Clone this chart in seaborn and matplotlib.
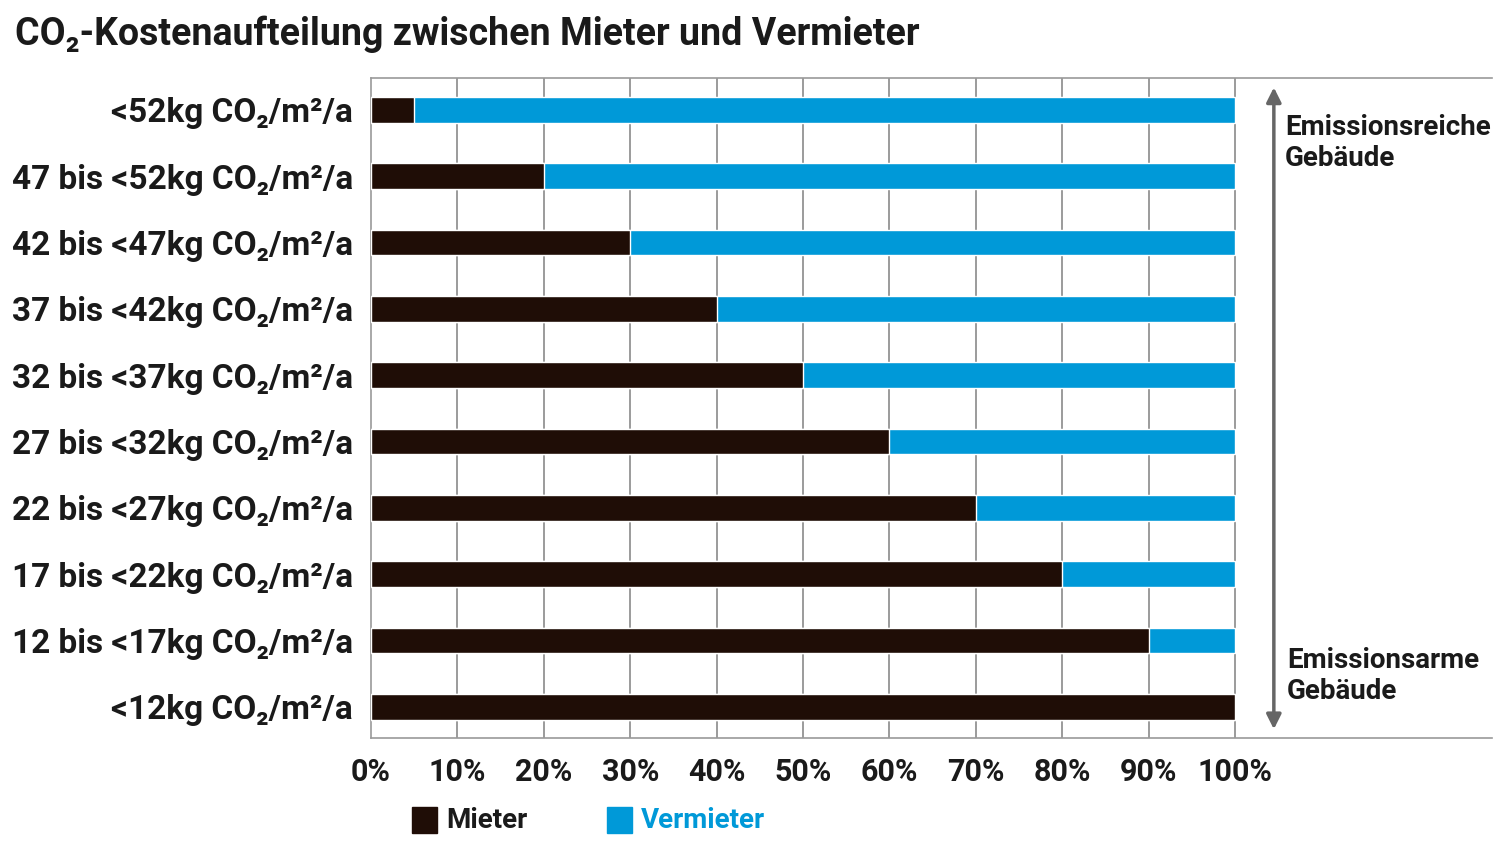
import pandas as pd
import seaborn as sns
import matplotlib.pyplot as plt

# Daten: Anteil der CO2-Kosten (in %)
klassen = ['<52kg CO₂/m²/a', '47 bis <52kg CO₂/m²/a', '42 bis <47kg CO₂/m²/a',
           '37 bis <42kg CO₂/m²/a', '32 bis <37kg CO₂/m²/a', '27 bis <32kg CO₂/m²/a',
           '22 bis <27kg CO₂/m²/a', '17 bis <22kg CO₂/m²/a', '12 bis <17kg CO₂/m²/a',
           '<12kg CO₂/m²/a']
mieter = [5, 20, 30, 40, 50, 60, 70, 80, 90, 100]
vermieter = [95, 80, 70, 60, 50, 40, 30, 20, 10, 0]
x_ticks = [0, 10, 20, 30, 40, 50, 60, 70, 80, 90, 100]

dunkel = '#1f0d06'
blau = '#0099d8'

df = pd.DataFrame({'klasse': klassen, 'mieter': mieter, 'vermieter': vermieter})
df['gesamt'] = df['mieter'] + df['vermieter']

sns.set_style('white')
plt.rcParams['font.family'] = ['Roboto', 'DejaVu Sans']
plt.rcParams['font.weight'] = 'bold'

fig = plt.figure(figsize=(15, 8.44), dpi=100)
ax = fig.add_axes([371 / 1500, 1 - 738 / 844, (1492 - 371) / 1500, 660 / 844])

# gestapelt: erst Gesamt (blau), dann Mieter (dunkel) darüber
sns.barplot(data=df, y='klasse', x='gesamt', color=blau, width=0.39,
            saturation=1, ax=ax, orient='h', zorder=3)
sns.barplot(data=df, y='klasse', x='mieter', color=dunkel, width=0.39,
            saturation=1, ax=ax, orient='h', zorder=4)

ax.set_xlim(0, 129.75)
ax.set_ylim(9.47, -0.48)
ax.set_xticks(x_ticks)
ax.set_xticklabels([f'{t}%' for t in x_ticks], fontsize=22, fontweight='bold', color='#1a1a1a')
ax.set_yticklabels(klassen, fontsize=24, fontweight='bold', color='#1a1a1a')
ax.tick_params(axis='both', length=0)
ax.tick_params(axis='x', pad=14)
ax.tick_params(axis='y', pad=13)
ax.set_xlabel('')
ax.set_ylabel('')

ax.grid(False)
for t in x_ticks[1:]:
    ax.axvline(t, color='#8a8a8a', lw=1.2, zorder=1)
for side in ['top', 'bottom', 'left']:
    ax.spines[side].set_visible(True)
    ax.spines[side].set_color('#9a9a9a')
    ax.spines[side].set_linewidth(1.2)
ax.spines['right'].set_visible(False)

# Pfeil rechts
ax.annotate('', xy=(104.5, -0.38), xytext=(104.5, 9.38),
            arrowprops=dict(arrowstyle='<|-|>', color='#666666', lw=2.5, mutation_scale=22))
ax.text(105.8, 0.5, 'Emissionsreiche\nGebäude', fontsize=20, fontweight='bold',
        color='#1a1a1a', va='center', ha='left', linespacing=1.2)
ax.text(106.0, 8.54, 'Emissionsarme\nGebäude', fontsize=20, fontweight='bold',
        color='#1a1a1a', va='center', ha='left', linespacing=1.2)

# Titel
fig.text(15 / 1500, 1 - 34 / 844, 'CO₂-Kostenaufteilung zwischen Mieter und Vermieter',
         fontsize=27, fontweight='bold', color='#1a1a1a', va='center', ha='left')

# Legende
fig.patches.append(plt.Rectangle((412 / 1500, 1 - 833 / 844), 25 / 1500, 26 / 844,
                                 transform=fig.transFigure, color=dunkel))
fig.text(446 / 1500, 1 - 820 / 844, 'Mieter', fontsize=20, fontweight='bold',
         color='#1a1a1a', va='center', ha='left')
fig.patches.append(plt.Rectangle((607 / 1500, 1 - 833 / 844), 25 / 1500, 26 / 844,
                                 transform=fig.transFigure, color=blau))
fig.text(641 / 1500, 1 - 820 / 844, 'Vermieter', fontsize=20, fontweight='bold',
         color=blau, va='center', ha='left')

fig.savefig('out.png', dpi=100, facecolor='white')
